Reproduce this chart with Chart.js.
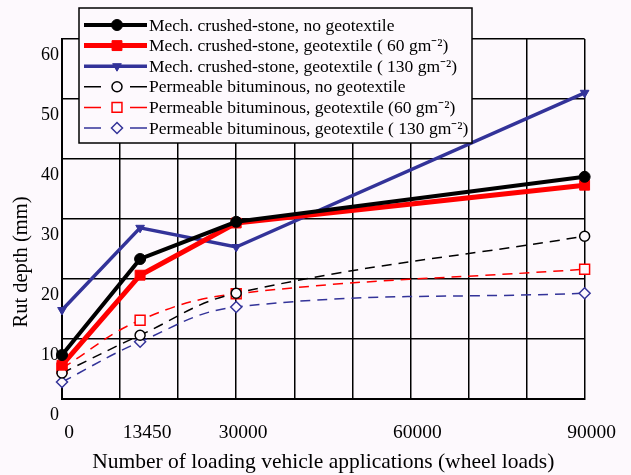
<!DOCTYPE html>
<html><head><meta charset="utf-8">
<script src="https://cdn.jsdelivr.net/npm/chart.js@4.4.0/dist/chart.umd.min.js"></script>
<style>
html,body{margin:0;padding:0;background:#fdf9fd;}
#wrap{width:631px;height:475px;position:relative;}
</style>
</head><body>
<div id="wrap"><canvas id="c" width="631" height="475"></canvas></div>
<script>
// ---- data ----
const xValues = [0, 13450, 30000, 90000];           // loading applications
const xTickLabels = [0, 13450, 30000, 60000, 90000];
const yTickLabels = [0, 10, 20, 30, 40, 50, 60];
const seriesNames = [
  "Mech. crushed-stone, no geotextile",
  "Mech. crushed-stone, geotextile ( 60 gm\u207B\u00B2)",
  "Mech. crushed-stone, geotextile ( 130 gm\u207B\u00B2)",
  "Permeable bituminous, no geotextile",
  "Permeable bituminous, geotextile (60 gm\u207B\u00B2)",
  "Permeable bituminous, geotextile ( 130 gm\u207B\u00B2)"
];
const mechNoGeo   = [10.0, 26.0, 32.2, 39.7];
const mechGeo60   = [8.3, 23.3, 32.0, 38.3];
const mechGeo130  = [17.5, 31.2, 28.0, 53.7];
const permNoGeo   = [7.0, 13.3, 20.3, 29.8];
const permGeo60   = [7.8, 15.8, 20.2, 24.3];
const permGeo130  = [5.5, 12.2, 18.0, 20.3];
const xAxisTitle = "Number of loading vehicle applications (wheel loads)";
const yAxisTitle = "Rut depth (mm)";

const BG = '#fdf9fd';
const BLUE = '#333399';
const RED = '#ff0000';
const BLACK = '#000000';
const SERIF = '"Liberation Serif", "Times New Roman", serif';

function pts(arr){ return xValues.map((x,i)=>({x:x, y:arr[i]})); }

const styles = [
  {c:BLACK, w:4,   dash:[],     ps:'circle',   r:5.5, fill:true,  rot:0},
  {c:RED,   w:5,   dash:[],     ps:'rect',     r:7,   fill:true,  rot:0},
  {c:BLUE,  w:3.5, dash:[],     ps:'triangle', r:5,   fill:true,  rot:180},
  {c:BLACK, w:1.5, dash:[10,7], ps:'circle',   r:5,   fill:false, rot:0},
  {c:RED,   w:1.5, dash:[10,7], ps:'rect',     r:7,   fill:false, rot:0},
  {c:BLUE,  w:1.5, dash:[10,7], ps:'rectRot',  r:5.5, fill:false, rot:0}
];
const seriesData = [mechNoGeo, mechGeo60, mechGeo130, permNoGeo, permGeo60, permGeo130];

const datasets = seriesData.map((arr,i)=>{
  const s = styles[i];
  return {
    label: seriesNames[i],
    data: pts(arr),
    xAxisID: 'x', yAxisID: 'yd',
    borderColor: s.c, borderWidth: s.w, borderDash: s.dash,
    tension: s.dash.length ? 0.4 : 0,
    pointStyle: s.ps, pointRadius: s.r, pointRotation: s.rot,
    pointBackgroundColor: s.fill ? s.c : BG,
    pointBorderColor: s.c, pointBorderWidth: s.fill ? 1 : 1.5,
    clip: false, fill: false
  };
});

function drawMarker(ctx, s, x, y){
  const H = Chart.helpers;
  ctx.save();
  ctx.setLineDash([]);
  ctx.fillStyle = s.fill ? s.c : BG;
  ctx.strokeStyle = s.c;
  ctx.lineWidth = s.fill ? 1 : 1.5;
  if (H && H.drawPoint) {
    H.drawPoint(ctx, {pointStyle: s.ps, rotation: s.rot, radius: s.r, borderWidth: ctx.lineWidth}, x, y);
  } else {
    ctx.beginPath(); ctx.arc(x,y,s.r,0,Math.PI*2); ctx.fill(); ctx.stroke();
  }
  ctx.restore();
}

const legendPlugin = {
  id: 'boxLegend',
  afterDraw(chart){
    const ctx = chart.ctx;
    ctx.save();
    const bx = 79, by = 8, bw = 393, bh = 135;
    ctx.fillStyle = BG;
    ctx.fillRect(bx, by, bw, bh);
    ctx.strokeStyle = BLACK; ctx.lineWidth = 1.5; ctx.setLineDash([]);
    ctx.strokeRect(bx, by, bw, bh);
    seriesNames.forEach((name,i)=>{
      const s = styles[i];
      const y = 25 + i*20.6;
      ctx.beginPath();
      ctx.strokeStyle = s.c; ctx.lineWidth = s.w;
      ctx.setLineDash(s.dash.length ? [17,29] : []);
      ctx.moveTo(84, y); ctx.lineTo(147, y); ctx.stroke();
      drawMarker(ctx, s, 117, y);
      ctx.setLineDash([]);
      ctx.fillStyle = BLACK;
      ctx.font = '17.5px ' + SERIF;
      ctx.textAlign = 'left'; ctx.textBaseline = 'middle';
      ctx.fillText(name, 149, y + 1);
    });
    // y axis title
    ctx.translate(22, 262);
    ctx.rotate(-Math.PI/2);
    ctx.font = '20.5px ' + SERIF;
    ctx.textAlign = 'center'; ctx.textBaseline = 'middle';
    ctx.fillStyle = BLACK;
    ctx.fillText(yAxisTitle, 0, 0);
    ctx.restore();
  }
};

const bgPlugin = {
  id: 'bg',
  beforeDraw(chart){
    const ctx = chart.ctx; ctx.save(); ctx.fillStyle = BG;
    ctx.fillRect(0,0,chart.width,chart.height); ctx.restore();
  }
};

const gridX = [0,10000,13450,20000,30000,40000,50000,60000,70000,80000,90000];

new Chart(document.getElementById('c'), {
  type: 'line',
  data: { datasets: datasets },
  plugins: [bgPlugin, legendPlugin],
  options: {
    responsive: false, animation: false, devicePixelRatio: 1,
    layout: { padding: { top: 39, right: 35, left: 0, bottom: 0 } },
    plugins: { legend: { display: false }, tooltip: { enabled: false } },
    scales: {
      x: {
        type: 'linear', min: 0, max: 90000, position: 'bottom',
        afterBuildTicks: s => { s.ticks = gridX.map(v => ({value: v})); },
        afterFit: s => { s.height = 76; },
        ticks: {
          autoSkip: false, maxRotation: 0, minRotation: 0,
          padding: 22, labelOffset: 7, color: BLACK,
          font: { family: SERIF, size: 19.5 },
          callback: v => xTickLabels.includes(v) ? String(v) : ''
        },
        grid: {
          drawTicks: false, lineWidth: 1.5,
          color: c => (c.tick && c.tick.value === 13450) ? 'rgba(0,0,0,0)' : BLACK
        },
        border: { display: true, color: BLACK, width: 2 },
        title: { display: true, text: xAxisTitle, color: BLACK,
                 font: { family: SERIF, size: 21.5 }, padding: { top: 0, bottom: 0 } }
      },
      y: {
        type: 'linear', position: 'left', min: 0, max: 60,
        afterBuildTicks: s => { s.ticks = yTickLabels.map(v => ({value: v})); },
        afterFit: s => { s.width = 62; },
        ticks: { stepSize: 10, padding: 3, labelOffset: 16, color: BLACK,
                 font: { family: SERIF, size: 18 } },
        grid: { drawTicks: false, lineWidth: 1.5, color: BLACK },
        border: { display: true, color: BLACK, width: 2 }
      },
      yd: {
        type: 'linear', position: 'left', display: false,
        min: 8/3, max: 188/3
      }
    }
  }
});
</script>
</body></html>
